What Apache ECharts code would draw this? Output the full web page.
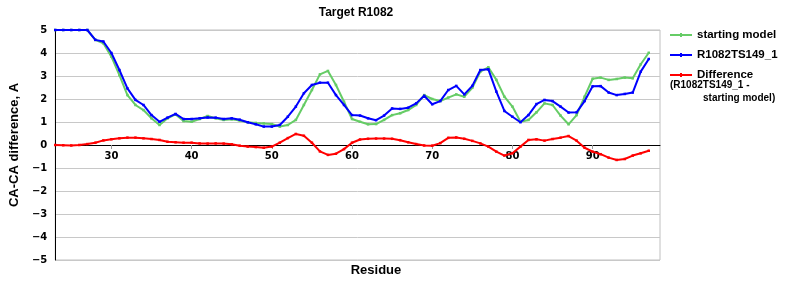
<!DOCTYPE html>
<html>
<head>
<meta charset="utf-8">
<script src="https://cdn.jsdelivr.net/npm/echarts@6/dist/echarts.min.js"></script>
<style>
  html, body { margin: 0; padding: 0; background: #fff; }
  #chart { width: 800px; height: 300px; }
</style>
</head>
<body>
<div id="chart"></div>
<script>
const titleText = 'Target R1082';
const xAxisName = 'Residue';
const yAxisName = 'CA-CA difference, A';
const xTicks = [30, 40, 50, 60, 70, 80, 90];
const residues = [23,24,25,26,27,28,29,30,31,32,33,34,35,36,37,38,39,40,41,42,43,44,45,46,47,48,49,50,51,52,53,54,55,56,57,58,59,60,61,62,63,64,65,66,67,68,69,70,71,72,73,74,75,76,77,78,79,80,81,82,83,84,85,86,87,88,89,90,91,92,93,94,95,96,97];
const startingModel = [5.0,5.0,5.0,5.0,5.0,4.57,4.42,3.84,3.04,2.17,1.74,1.52,1.16,0.87,1.16,1.33,1.04,1.01,1.13,1.26,1.16,1.09,1.12,1.06,0.99,0.96,0.94,0.91,0.8,0.87,1.09,1.74,2.39,3.07,3.22,2.61,1.88,1.13,1.01,0.9,0.91,1.09,1.3,1.38,1.52,1.74,2.17,2.0,1.91,2.06,2.2,2.1,2.49,3.19,3.38,2.83,2.1,1.67,1.01,1.09,1.42,1.81,1.74,1.28,0.9,1.3,2.1,2.88,2.93,2.83,2.87,2.93,2.9,3.51,4.01];
const modelTS149 = [5.0,5.0,5.0,5.0,5.0,4.57,4.5,4.0,3.26,2.46,1.96,1.74,1.3,1.01,1.19,1.35,1.13,1.13,1.16,1.2,1.19,1.13,1.16,1.1,0.99,0.9,0.8,0.8,0.87,1.23,1.67,2.25,2.61,2.71,2.71,2.17,1.74,1.3,1.28,1.16,1.08,1.28,1.59,1.57,1.62,1.81,2.14,1.77,1.91,2.39,2.57,2.2,2.57,3.26,3.29,2.32,1.48,1.23,0.99,1.3,1.78,1.96,1.91,1.67,1.41,1.42,1.91,2.55,2.56,2.28,2.17,2.22,2.28,3.19,3.74];
const difference = [0,-0.01,-0.02,0,0.04,0.1,0.2,0.25,0.29,0.32,0.32,0.29,0.26,0.22,0.14,0.12,0.1,0.1,0.07,0.06,0.07,0.06,0.03,-0.03,-0.07,-0.09,-0.12,-0.07,0.1,0.3,0.48,0.4,0.1,-0.28,-0.43,-0.38,-0.18,0.1,0.24,0.27,0.28,0.28,0.27,0.21,0.12,0.04,-0.02,-0.03,0.08,0.31,0.33,0.27,0.18,0.07,-0.07,-0.29,-0.46,-0.36,-0.07,0.22,0.25,0.19,0.26,0.32,0.39,0.19,-0.12,-0.29,-0.4,-0.55,-0.65,-0.61,-0.46,-0.36,-0.25];
const seriesNames = ['starting model', 'R1082TS149_1', 'Difference'];
const diffNote1 = '(R1082TS149_1 -';
const diffNote2 = 'starting model)';

function pairs(vals) { return residues.map((r, i) => [r, vals[i]]); }

const chart = echarts.init(document.getElementById('chart'), null, { renderer: 'canvas' });
const FONT = 'Liberation Sans, Arial, sans-serif';
const legendIcon = 'path://M0,2 L22,2 L22,4 L0,4 Z M10,1 L12,1 L12,5 L10,5 Z';

function lineSeries(name, vals, color, z) {
  return {
    name: name, type: 'line', data: pairs(vals), z: z,
    symbol: 'rect', symbolSize: 2.5, showSymbol: true,
    lineStyle: { color: color, width: 2 },
    itemStyle: { color: color },
    emphasis: { disabled: true }, animation: false
  };
}

chart.setOption({
  animation: false,
  grid: { left: 50, right: 140, top: 30, bottom: 40, show: true, borderColor: '#c0c0c0', borderWidth: 1, backgroundColor: 'transparent' },
  xAxis: {
    type: 'value', min: 23, max: 98.4, position: 'bottom', offset: -115,
    axisLine: { onZero: false, lineStyle: { color: '#000', width: 1 } },
    axisTick: { show: true, customValues: xTicks, length: 4, lineStyle: { color: '#999' } },
    axisLabel: { customValues: xTicks, margin: 6, fontFamily: 'DejaVu Sans', fontWeight: 'bold', fontSize: 10, color: '#000' },
    splitLine: { show: false }
  },
  yAxis: {
    type: 'value', min: -5, max: 5, interval: 1,
    name: yAxisName, nameLocation: 'middle', nameGap: 28, nameRotate: 90,
    nameTextStyle: { fontFamily: FONT, fontWeight: 'bold', fontSize: 13, color: '#000' },
    axisLine: { show: true, onZero: false, lineStyle: { color: '#000', width: 1 } },
    axisTick: { show: false },
    axisLabel: {
      margin: 8, fontFamily: 'DejaVu Sans', fontWeight: 'bold', fontSize: 10, color: '#000',
      formatter: v => (v < 0 ? '\u2212' + Math.abs(v) : String(v))
    },
    splitLine: { show: true, lineStyle: { color: '#c8c8c8', width: 1 } }
  },
  legend: {
    orient: 'vertical', left: 670, top: 28, padding: 0,
    itemWidth: 22, itemHeight: 6, itemGap: 6,
    icon: legendIcon,
    data: seriesNames,
    textStyle: { fontFamily: FONT, fontWeight: 'bold', fontSize: 11.5, lineHeight: 14, color: '#000' }
  },
  graphic: [
    { type: 'text', x: 356, y: 13, style: { text: titleText, fontFamily: FONT, fontWeight: 'bold', fontSize: 12, fill: '#000', align: 'center', verticalAlign: 'middle' } },
    { type: 'text', x: 376, y: 270, style: { text: xAxisName, fontFamily: FONT, fontWeight: 'bold', fontSize: 13, fill: '#000', align: 'center', verticalAlign: 'middle' } },
    { type: 'text', x: 670, y: 85.5, style: { text: diffNote1, fontFamily: FONT, fontWeight: 'bold', fontSize: 10, fill: '#000', align: 'left', verticalAlign: 'middle' } },
    { type: 'text', x: 703, y: 98.5, style: { text: diffNote2, fontFamily: FONT, fontWeight: 'bold', fontSize: 10, fill: '#000', align: 'left', verticalAlign: 'middle' } }
  ],
  series: [
    lineSeries(seriesNames[0], startingModel, '#66cc66', 2),
    lineSeries(seriesNames[1], modelTS149, '#0000ff', 3),
    lineSeries(seriesNames[2], difference, '#ff0000', 4)
  ]
});
</script>
</body>
</html>
